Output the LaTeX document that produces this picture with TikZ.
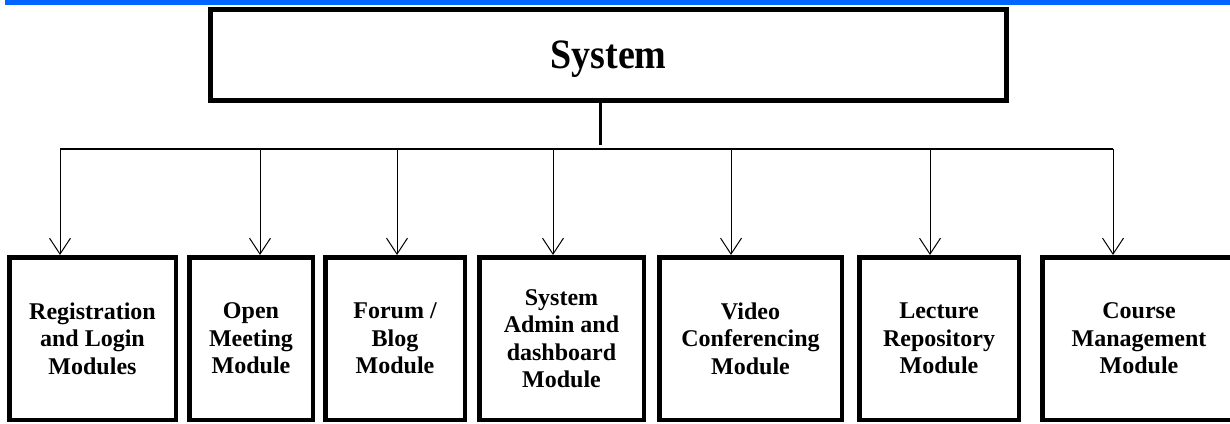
\documentclass[tikz,border=0pt]{standalone}
\usepackage{fontspec}
\setmainfont{Liberation Serif}
\usetikzlibrary{arrows.meta}
\definecolor{topbar}{RGB}{0,102,255}
\tikzset{
  sysbox/.style={draw, line width=5pt, inner sep=0pt, outer sep=2.5pt,
    minimum width=796pt, minimum height=91pt, text depth=0pt,
    font=\bfseries\fontsize{38}{42}\selectfont},
  modbox/.style={draw, line width=4.5pt, inner sep=0pt, outer sep=2.25pt,
    minimum height=162.5pt, align=center,
    font=\bfseries\fontsize{24}{27.5}\selectfont},
  link/.style={line width=1pt, -{Straight Barb[length=16pt,width=21pt]}},
  bus/.style={line width=1.5pt},
  stem/.style={line width=3pt},
}
\begin{document}
\begin{tikzpicture}[x=1pt,y=-1pt]
  \clip (0,0) rectangle (1230,423);
  % blue rule along the top
  \fill[topbar] (5,0) rectangle (1230,5);

  % root box
  \node[sysbox] (sys) at (608.5,55) {\scalebox{1}[1.1]{System}};

  % module boxes
  \node[modbox, minimum width=166.5pt] (m1) at (92.5,338.5)
    {Registration\\and Login\\Modules};
  \node[modbox, minimum width=123.5pt] (m2) at (251,338.5)
    {Open\\Meeting\\Module};
  \node[modbox, minimum width=139.5pt] (m3) at (395,338.5)
    {Forum /\\Blog\\Module};
  \node[modbox, minimum width=164.5pt] (m4) at (561.5,338.5)
    {System\\Admin and\\dashboard\\Module};
  \node[modbox, minimum width=182.5pt] (m5) at (750.5,338.5)
    {Video\\Conferencing\\Module};
  \node[modbox, minimum width=159.5pt] (m6) at (939,338.5)
    {Lecture\\Repository\\Module};
  \node[modbox, minimum width=193.5pt] (m7) at (1139,338.5)
    {Course\\Management\\Module};

  % distribution bus
  \coordinate (stemend) at (600,145);
  \coordinate (b1) at (60,149);
  \coordinate (b2) at (260,149);
  \coordinate (b3) at (397,149);
  \coordinate (b4) at (553,149);
  \coordinate (b5) at (731,149);
  \coordinate (b6) at (930,149);
  \coordinate (b7) at (1113,149);

  \draw[stem] (sys.south -| stemend) -- (stemend);
  \draw[bus] (b1) -- (b7);
  \foreach \i in {1,...,7}{
    \draw[link] (b\i) -- (b\i |- m\i.north);
  }
\end{tikzpicture}
\end{document}
